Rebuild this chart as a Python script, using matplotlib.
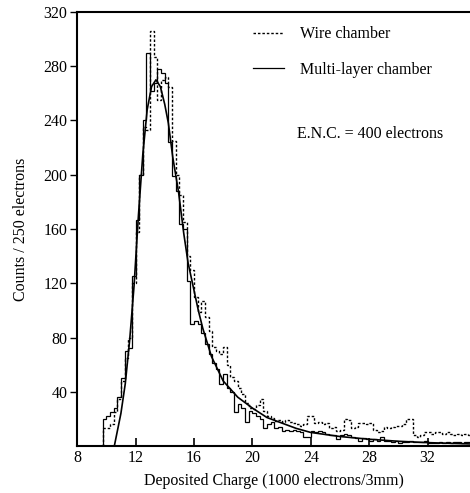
import numpy as np
import matplotlib
matplotlib.use("Agg")
import matplotlib.pyplot as plt

plt.rcParams['font.family'] = ['Liberation Serif', 'DejaVu Serif']

# histograms: 0.25 wide bins starting at 9.75 (1000 electrons/3mm)
start = 9.75
binw = 0.25
wire = [13, 13, 16, 25, 35, 48, 65, 80, 120, 158, 200, 235, 233, 306, 287, 255,
        270, 272, 265, 225, 200, 185, 165, 140, 130, 110, 99, 107, 95, 85, 73, 70,
        68, 73, 60, 51, 48, 43, 38, 32, 28, 27, 30, 35, 26, 22, 21, 18.5, 19,
        18, 19, 18, 17, 16, 15, 16, 22, 22, 17, 18, 16, 17, 13, 14, 11, 12, 20,
        19, 13, 14, 17, 17, 16, 17, 12, 10, 11, 14, 13, 14, 15, 15, 16, 20, 20,
        8, 7, 8, 10, 10, 9, 10, 10, 9, 10, 9, 8, 9, 8, 9, 8]
multi = [20, 22, 25, 28, 36, 50, 70, 72, 125, 167, 200, 240, 290, 262, 268, 278,
         275, 268, 224, 199, 188, 164, 160, 122, 90, 92, 90, 83, 75, 68, 61, 57,
         46, 53, 43, 40, 25, 31, 28, 18, 26, 24, 22, 20, 13, 16, 18, 13, 14,
         11, 12, 11, 12, 11, 10, 7, 7, 11, 10, 11, 10, 9, 8, 8, 5, 8, 9, 8, 7,
         6, 4, 6, 5, 4, 5, 4, 7, 4, 4, 3, 4, 2, 3, 3, 4, 3, 3, 3, 4, 2, 2, 2, 3,
         2, 3, 2, 3, 3, 2, 3, 3]

# fitted curve
fit_x = [10.55, 11.0, 11.3, 11.6, 11.9, 12.2, 12.5, 12.8, 13.1, 13.4, 13.7, 14.0,
         14.25, 14.55, 14.95, 15.3, 15.6, 16.0, 16.3, 16.6, 17.2, 18.0, 19.0,
         20.0, 21.0, 22.0, 23.0, 24.0, 26.0, 28.0, 30.0, 32.0, 35.0]
fit_y = [0, 24, 46, 78, 118, 170, 215, 248, 265, 270, 265, 252, 238, 213, 187,
         157, 135, 115, 100, 87, 66, 48, 36, 28, 21, 17, 13, 10, 7, 5, 3.5, 2.5, 1.5]

fig = plt.figure(figsize=(4.70, 4.93), dpi=100)
ax = fig.add_axes([0.164, 0.0953, 0.836, 0.8804])

e_w = start + binw * np.arange(len(wire) + 1)
e_m = start + binw * np.arange(len(multi) + 1)
ax.stairs(wire, e_w, color='black', lw=1.0, ls=(0, (1.8, 1.4)), label='Wire chamber')
ax.stairs(multi, e_m, color='black', lw=0.9, label='Multi-layer chamber')
ax.plot(fit_x, fit_y, color='black', lw=1.2)

ax.set_xlim(8, 34.9)
ax.set_ylim(0, 320)
ax.set_xticks([8, 12, 16, 20, 24, 28, 32])
ax.set_yticks([40, 80, 120, 160, 200, 240, 280, 320])
ax.tick_params(axis='x', direction='in', length=6, width=1.2, labelsize=11.5, pad=3)
ax.tick_params(axis='y', direction='out', length=5, width=1.0, labelsize=11.5, pad=2)
for s in ['left', 'bottom', 'top']:
    ax.spines[s].set_linewidth(1.5)
ax.spines['right'].set_visible(False)

ax.set_xlabel('Deposited Charge (1000 electrons/3mm)', fontsize=11.5, labelpad=5)
ax.set_ylabel('Counts / 250 electrons', fontsize=11.5, labelpad=10)

leg = ax.legend(loc='upper left', bbox_to_anchor=(0.41, 1.0), frameon=False,
                fontsize=11.5, handlelength=2.0, handletextpad=1.0, labelspacing=1.2)
ax.text(0.56, 0.72, 'E.N.C. = 400 electrons', transform=ax.transAxes,
        fontsize=11.5, ha='left', va='center')

fig.savefig('out.png', dpi=100)
